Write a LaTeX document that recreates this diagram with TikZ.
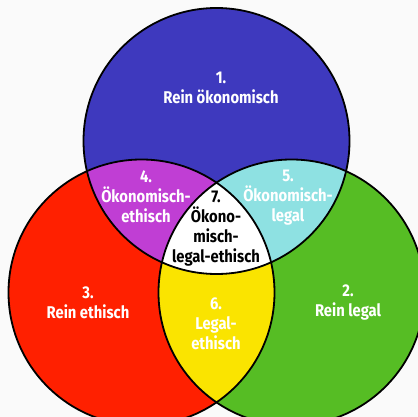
\documentclass[tikz,border=0pt]{standalone}
\usepackage{fontspec}
\setmainfont{Fira Sans}[FakeStretch=0.87]
\usepackage{tikz}
\usepackage{xcolor}
\usetikzlibrary{positioning}
\definecolor{oekoblue}{RGB}{62, 57, 190}
\definecolor{ethred}{RGB}{255, 32, 0}
\definecolor{legalgreen}{RGB}{86, 189, 36}
\definecolor{mixpurple}{RGB}{192, 62, 212}
\definecolor{mixcyan}{RGB}{142, 225, 226}
\definecolor{mixyellow}{RGB}{250, 228, 0}
\definecolor{paper}{RGB}{250, 250, 250}

\tikzset{
  regionlbl/.style={text=white, font=\bfseries\fontsize{17}{20}\selectfont, align=center, inner sep=0pt},
  corelbl/.style={regionlbl, text=black}
}

\begin{document}
\begin{tikzpicture}[x=1pt, y=-1pt]
\fill[paper] (0,0) rectangle (418,417);
\useasboundingbox (0,0) rectangle (418,417);

\fill[oekoblue] (216.5,141) circle (133pt);
\fill[ethred] (141.5,292.5) circle (133pt);
\fill[legalgreen] (291.5,292.5) circle (133pt);

% pairwise overlaps
\begin{scope}
\clip (216.5,141) circle (133pt);
\fill[mixpurple] (141.5,292.5) circle (133pt);
\fill[mixcyan] (291.5,292.5) circle (133pt);
\end{scope}
\begin{scope}
\clip (141.5,292.5) circle (133pt);
\fill[mixyellow] (291.5,292.5) circle (133pt);
\clip (291.5,292.5) circle (133pt);
\fill[white] (216.5,141) circle (133pt);
\end{scope}

\draw[line width=1.8pt] (216.5,141) circle (133pt);
\draw[line width=1.8pt] (141.5,292.5) circle (133pt);
\draw[line width=1.8pt] (291.5,292.5) circle (133pt);

\node[regionlbl] (rein1) at (221,88) {1.\\Rein ökonomisch};
\node[regionlbl] (rein2) at (348,303) {2.\\Rein legal};
\node[regionlbl] (rein3) at (88,303) {3.\\Rein ethisch};
\node[regionlbl] (mix4) at (146,197) {4.\\Ökonomisch-\\ethisch};
\node[regionlbl] (mix5) at (288,198) {5.\\Ökonomisch-\\legal};
\node[regionlbl] (mix6) at (216,324) {6.\\Legal-\\ethisch};
\node[corelbl] (core7) at (216,229) {7.\\Ökono-\\misch-\\legal-ethisch};

\end{tikzpicture}
\end{document}
